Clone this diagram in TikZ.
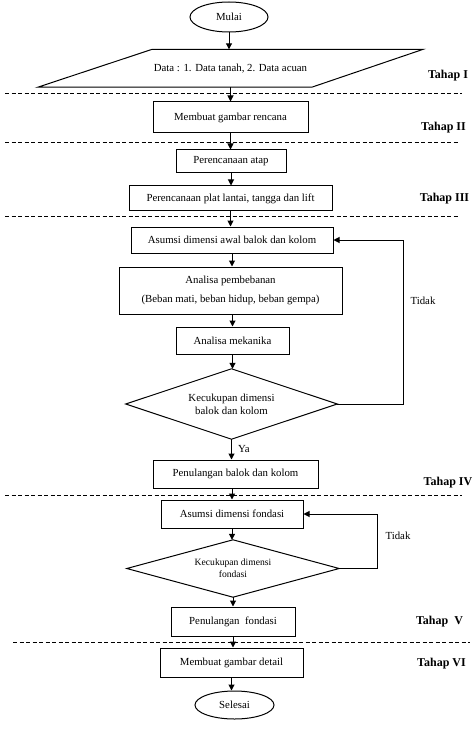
\documentclass[tikz,border=0pt]{standalone}
\usepackage{fontspec}
\setmainfont{Liberation Serif}
\usetikzlibrary{shapes.geometric,arrows.meta}
\begin{document}
\begin{tikzpicture}[x=1pt,y=-1pt,
  base/.style={font=\fontsize{10.8}{13}\selectfont, inner sep=0pt},
  box/.style={base, draw, line width=1pt, rectangle},
  term/.style={base, draw, line width=1pt, ellipse},
  plain/.style={base},
  arr/.style={line width=1pt, -{Triangle[length=6pt,width=6pt]}},
  line/.style={line width=1pt},
  divider/.style={line width=0.7pt, dash pattern=on 4pt off 2.5pt},
  tahap/.style={font=\bfseries\fontsize{12}{14}\selectfont, inner sep=0pt},
  lab/.style={font=\fontsize{10.8}{13}\selectfont, inner sep=0pt}]
\useasboundingbox (0,0) rectangle (474,735);

% nodes
\node[term, minimum width=78pt, minimum height=30pt] (mulai) at (229,17) {Mulai};
\node[plain, minimum width=385pt, minimum height=37.5pt] (data) at (230.5,68.25) {Data : 1. Data tanah, 2. Data acuan};
\draw[line] (data.south west) -- ++(274,0) -- (data.north east) -- ++(-271,0) -- cycle;
\node[box, minimum width=155pt, minimum height=31pt] (gambar) at (230.5,117.5) {Membuat gambar rencana};
\node[box, minimum width=110pt, minimum height=23pt] (atap) at (231,161.5) {Perencanaan atap};
\node[box, minimum width=203pt, minimum height=25pt] (plat) at (230.5,198.5) {Perencanaan plat lantai, tangga dan lift};
\node[box, minimum width=202pt, minimum height=26pt] (asumsi) at (232,240) {Asumsi dimensi awal balok dan kolom};
\node[box, minimum width=223pt, minimum height=47pt, align=center, font=\fontsize{10.8}{19}\selectfont] (analisa) at (230.5,290.5) {Analisa pembebanan\\(Beban mati, beban hidup, beban gempa)};
\node[box, minimum width=113pt, minimum height=27pt] (mekanika) at (232.5,340.5) {Analisa mekanika};
\node[plain, minimum width=211pt, minimum height=70pt, align=center] (cek1) at (231.5,404) {Kecukupan dimensi\\balok dan kolom};
\draw[line] (cek1.north) -- (cek1.east) -- (cek1.south) -- (cek1.west) -- cycle;
\node[box, minimum width=165pt, minimum height=28pt] (balok) at (235.5,474) {Penulangan balok dan kolom};
\node[box, minimum width=142pt, minimum height=28pt] (fondasi) at (232,514) {Asumsi dimensi fondasi};
\node[plain, minimum width=212pt, minimum height=57pt, align=center, font=\fontsize{9.6}{12}\selectfont] (cek2) at (233,568.5) {Kecukupan dimensi\\fondasi};
\draw[line] (cek2.north) -- (cek2.east) -- (cek2.south) -- (cek2.west) -- cycle;
\node[box, minimum width=124pt, minimum height=29pt] (penfond) at (233,621.5) {Penulangan\ \ fondasi};
\node[box, minimum width=143pt, minimum height=29pt] (detail) at (231.5,662.5) {Membuat gambar detail};
\node[term, minimum width=79pt, minimum height=28pt] (selesai) at (234.5,705) {Selesai};

% arrows
\draw[arr] (mulai.south) -- (mulai.south |- data.north);
\draw[arr] (gambar.north |- data.south) -- (gambar.north);
\draw[arr] (gambar.south) -- (gambar.south |- atap.north);
\draw[arr] (atap.south) -- (atap.south |- plat.north);
\draw[arr] (plat.south) -- (plat.south |- asumsi.north);
\draw[arr] (asumsi.south) -- (asumsi.south |- analisa.north);
\draw[arr] (mekanika.north |- analisa.south) -- (mekanika.north);
\draw[arr] (mekanika.south) -- (mekanika.south |- cek1.north);
\draw[arr] (cek1.south) -- (cek1.south |- balok.north);
\draw[arr] (fondasi.north |- balok.south) -- (fondasi.north);
\draw[arr] (fondasi.south) -- (fondasi.south |- cek2.north);
\draw[arr] (cek2.south) -- (cek2.south |- penfond.north);
\draw[arr] (penfond.south) -- (penfond.south |- detail.north);
\draw[arr] (detail.south) -- (detail.south |- selesai.north);

% feedback loops
\draw[arr] (cek1.east) -- ++(66,0) |- (asumsi.east);
\draw[arr] (cek2.east) -- ++(38,0) |- (fondasi.east);
\node[lab] (tidak1) at (423,301) {Tidak};
\node[lab] (tidak2) at (398,536) {Tidak};
\node[lab] (ya) at (244,449) {Ya};

% dividers
\coordinate (d1a) at (5,93);   \coordinate (d1b) at (462,93);
\coordinate (d2a) at (5,142);  \coordinate (d2b) at (458,142);
\coordinate (d3a) at (5,216);  \coordinate (d3b) at (458,216);
\coordinate (d4a) at (5,495);  \coordinate (d4b) at (462,495);
\coordinate (d5a) at (13,642); \coordinate (d5b) at (470,642);
\draw[divider] (d1a) -- (d1b);
\draw[divider] (d2a) -- (d2b);
\draw[divider] (d3a) -- (d3b);
\draw[divider] (d4a) -- (d4b);
\draw[divider] (d5a) -- (d5b);

% stage labels
\node[tahap] (t1) at (448,76) {Tahap I};
\node[tahap] (t2) at (443.5,128) {Tahap II};
\node[tahap] (t3) at (444.5,199) {Tahap III};
\node[tahap] (t4) at (448,483) {Tahap IV};
\node[tahap] (t5) at (439.5,622) {Tahap\ \ V};
\node[tahap] (t6) at (441.5,664) {Tahap VI};
\end{tikzpicture}
\end{document}
